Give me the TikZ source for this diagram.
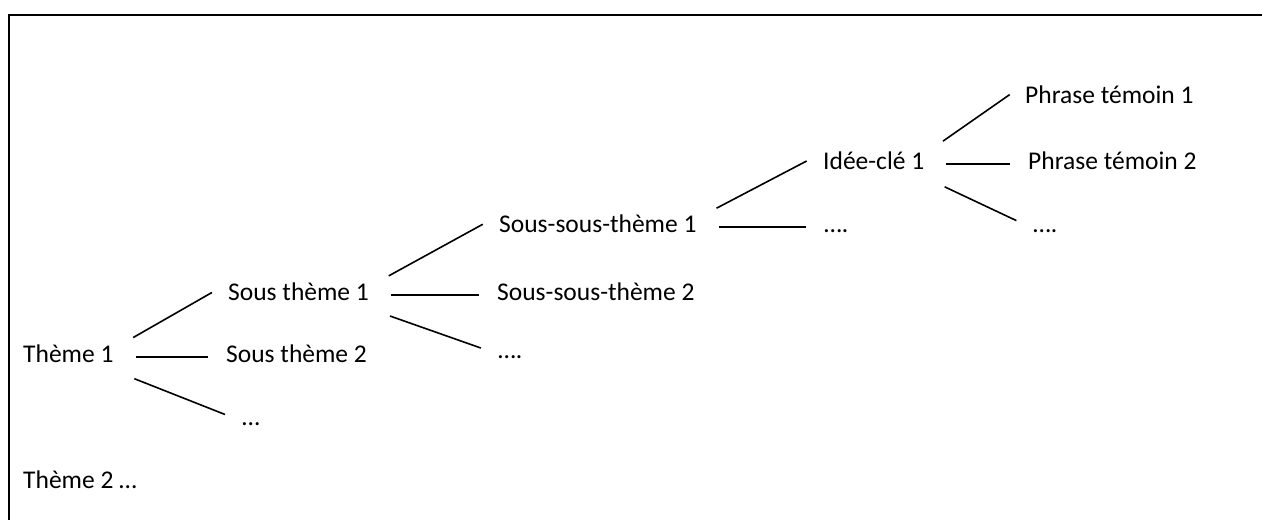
\documentclass[tikz,border=0pt]{standalone}
\usepackage{fontspec}
\setmainfont{Carlito}

\begin{document}
\begin{tikzpicture}[x=1pt, y=-1pt,
    txt/.style={anchor=west, inner sep=3pt, text height=17pt, text depth=6pt, font=\fontsize{25.5}{30}\selectfont},
    branch/.style={line width=1.6pt, shorten <=19pt, shorten >=15pt},
    frame/.style={line width=2pt}]
    \useasboundingbox (0, 0) rectangle (1262, 520);
    \draw[frame] (8.5, 520)--(8.5, 15)--(1262, 15);

    \node[txt] (T1) at (20, 357){Thème 1};
    \node[txt] (T2) at (20, 483){Thème 2 …};
    \node[txt] (ST1) at (225, 295){Sous thème 1};
    \node[txt] (ST2) at (223, 357){Sous thème 2};
    \node[txt] (STd) at (239, 420){…};
    \node[txt] (SST1) at (496, 227){Sous-sous-thème 1};
    \node[txt] (SST2) at (494, 295){Sous-sous-thème 2};
    \node[txt] (SSTd) at (495, 353){….};
    \node[txt] (IC1) at (820, 164){Idée-clé 1};
    \node[txt] (ICd) at (821, 227){….};
    \node[txt] (PT1) at (1022, 98){Phrase témoin 1};
    \node[txt] (PT2) at (1025, 164){Phrase témoin 2};
    \node[txt] (PTd) at (1030, 227){….};

    \draw[branch] ([yshift=10pt]T1.east)--([yshift=10pt]ST1.west);
    \draw[branch] (T1.east)--(ST2.west);
    \draw[branch] (T1.south east)--(STd.west);
    \draw[branch] ([yshift=10pt]ST1.east)--([yshift=10pt]SST1.west);
    \draw[branch] (ST1.east)--(SST2.west);
    \draw[branch] (ST1.south east)--(SSTd.west);
    \draw[branch] ([yshift=10pt]SST1.east)--([yshift=10pt]IC1.west);
    \draw[branch] (SST1.east)--(ICd.west);
    \draw[branch] ([yshift=12pt]IC1.east)--([yshift=12pt]PT1.west);
    \draw[branch] (IC1.east)--(PT2.west);
    \draw[branch] (IC1.south east)--(PTd.west);
  \end{tikzpicture}
\end{document}
